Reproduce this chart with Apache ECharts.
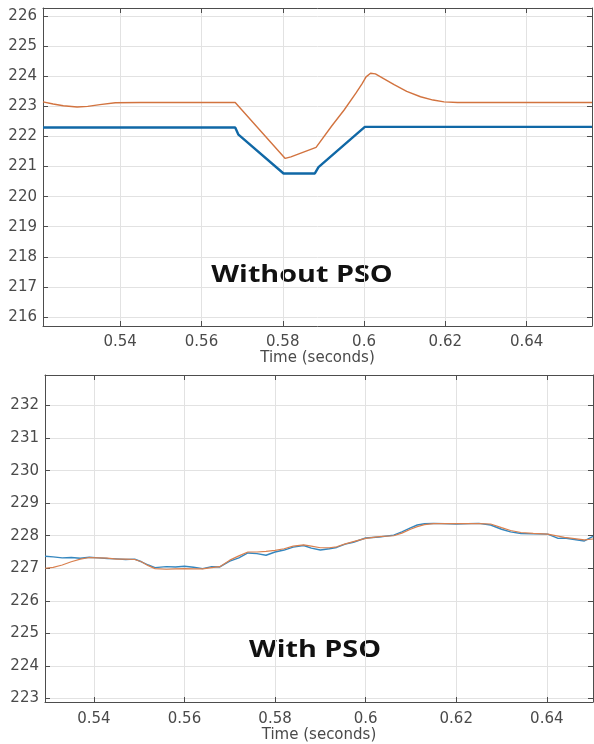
<!DOCTYPE html>
<html>
<head>
<meta charset="utf-8">
<script src="https://cdn.jsdelivr.net/npm/echarts@6/dist/echarts.min.js"></script>
<style>
html,body{margin:0;padding:0;background:#fff;}
#chart{width:594px;height:744px;}
</style>
</head>
<body>
<div id="chart"></div>
<script>
// ---- Top panel (Without PSO) ----
const topOrangeTime = [0.521, 0.5235, 0.526, 0.5294, 0.532, 0.535, 0.5388, 0.545, 0.555, 0.5683, 0.5806, 0.582, 0.5882, 0.592, 0.5951, 0.598, 0.5995, 0.6005, 0.6016, 0.6028, 0.6045, 0.6074, 0.6105, 0.6139, 0.617, 0.6197, 0.623, 0.63, 0.64, 0.6561];
const topOrange     = [223.15, 223.08, 223.02, 222.98, 223.0, 223.06, 223.12, 223.13, 223.13, 223.13, 221.27, 221.32, 221.64, 222.34, 222.88, 223.44, 223.75, 223.98, 224.1, 224.08, 223.95, 223.72, 223.5, 223.32, 223.21, 223.15, 223.13, 223.13, 223.13, 223.13];
const topBlueTime   = [0.521, 0.545, 0.5683, 0.5691, 0.5802, 0.584, 0.5879, 0.5888, 0.6002, 0.62, 0.6561];
const topBlue       = [222.30, 222.30, 222.30, 222.06, 220.77, 220.77, 220.77, 220.98, 222.32, 222.32, 222.32];

// ---- Bottom panel (With PSO) ----
const botTime   = [0.5292, 0.531, 0.533, 0.535, 0.537, 0.539, 0.541, 0.543, 0.545, 0.547, 0.549, 0.5505, 0.552, 0.5535, 0.556, 0.558, 0.560, 0.562, 0.564, 0.566, 0.5678, 0.570, 0.572, 0.574, 0.576, 0.578, 0.580, 0.582, 0.584, 0.5863, 0.588, 0.590, 0.592, 0.5936, 0.5955, 0.5973, 0.600, 0.603, 0.6062, 0.608, 0.6099, 0.6114, 0.613, 0.615, 0.620, 0.625, 0.6276, 0.630, 0.632, 0.6343, 0.637, 0.6402, 0.6425, 0.6439, 0.6483, 0.6502];
const botOrange = [227.00, 227.03, 227.10, 227.20, 227.28, 227.33, 227.32, 227.31, 227.28, 227.28, 227.27, 227.20, 227.08, 226.99, 226.97, 226.98, 226.99, 226.98, 226.98, 227.02, 227.05, 227.25, 227.38, 227.50, 227.50, 227.52, 227.55, 227.60, 227.68, 227.72, 227.68, 227.63, 227.63, 227.66, 227.75, 227.82, 227.92, 227.97, 228.00, 228.08, 228.20, 228.28, 228.34, 228.37, 228.37, 228.37, 228.36, 228.25, 228.16, 228.10, 228.07, 228.05, 227.99, 227.95, 227.87, 227.90];
const botBlue   = [227.37, 227.35, 227.32, 227.33, 227.31, 227.34, 227.32, 227.30, 227.29, 227.27, 227.28, 227.20, 227.10, 227.02, 227.05, 227.04, 227.06, 227.03, 226.99, 227.05, 227.04, 227.22, 227.32, 227.47, 227.45, 227.40, 227.50, 227.56, 227.65, 227.70, 227.62, 227.56, 227.60, 227.64, 227.74, 227.80, 227.93, 227.96, 228.02, 228.12, 228.24, 228.33, 228.37, 228.38, 228.36, 228.38, 228.33, 228.20, 228.12, 228.07, 228.06, 228.05, 227.92, 227.93, 227.84, 227.98];

const xLabelName = 'Time (seconds)';
const topTitle = 'Without PSO';
const botTitle = 'With PSO';

function pairs(t, v){ return t.map((x,i)=>[x, v[i]]); }

const axisColor = '#4d4d4d';
const labelStyle = {color:'#4a4a4a', fontFamily:'DejaVu Sans', fontSize:15};

function xAxisMain(gi, min, max, gap, labMargin){
  return {type:'value', gridIndex:gi, min:min, max:max, minInterval:0.02, maxInterval:0.02,
    name:xLabelName, nameLocation:'middle', nameGap:gap,
    nameTextStyle:{color:'#4a4a4a', fontFamily:'DejaVu Sans', fontSize:15},
    axisLine:{show:true, onZero:false, lineStyle:{color:axisColor, width:1}},
    axisTick:{show:true, inside:true, length:5, lineStyle:{color:axisColor}},
    axisLabel:Object.assign({margin:labMargin, showMinLabel:false, showMaxLabel:false}, labelStyle),
    splitLine:{show:true, lineStyle:{color:'#e2e2e2', width:1}}};
}
function xAxisTop(gi, min, max){
  return {type:'value', gridIndex:gi, position:'top', min:min, max:max, minInterval:0.02, maxInterval:0.02,
    axisLine:{show:true, onZero:false, lineStyle:{color:axisColor, width:1}},
    axisTick:{show:true, inside:true, length:5, lineStyle:{color:axisColor}},
    axisLabel:{show:false}, splitLine:{show:false}};
}
function yAxisMain(gi, min, max){
  return {type:'value', gridIndex:gi, min:min, max:max, minInterval:1, maxInterval:1,
    axisLine:{show:true, onZero:false, lineStyle:{color:axisColor, width:1}},
    axisTick:{show:true, inside:true, length:5, lineStyle:{color:axisColor}},
    axisLabel:Object.assign({margin:6, showMinLabel:false, showMaxLabel:false}, labelStyle),
    splitLine:{show:true, lineStyle:{color:'#e2e2e2', width:1}}};
}
function yAxisRight(gi, min, max){
  return {type:'value', gridIndex:gi, position:'right', min:min, max:max, minInterval:1, maxInterval:1,
    axisLine:{show:true, onZero:false, lineStyle:{color:axisColor, width:1}},
    axisTick:{show:true, inside:true, length:5, lineStyle:{color:axisColor}},
    axisLabel:{show:false}, splitLine:{show:false}};
}

const chart = echarts.init(document.getElementById('chart'), null, {renderer:'canvas'});
chart.setOption({
  animation:false,
  backgroundColor:'#fff',
  grid:[
    {left:43, top:8, width:549, height:318, containLabel:false, outerBoundsMode:'none'},
    {left:45, top:375, width:548, height:327, containLabel:false, outerBoundsMode:'none'}
  ],
  xAxis:[
    xAxisMain(0, 0.521, 0.6561, 24, 9),
    xAxisTop(0, 0.521, 0.6561),
    xAxisMain(1, 0.5292, 0.6502, 26, 10),
    xAxisTop(1, 0.5292, 0.6502)
  ],
  yAxis:[
    yAxisMain(0, 215.7, 226.27),
    yAxisRight(0, 215.7, 226.27),
    yAxisMain(1, 222.89, 232.94),
    yAxisRight(1, 222.89, 232.94)
  ],
  series:[
    {type:'line', xAxisIndex:0, yAxisIndex:0, data:pairs(topBlueTime, topBlue), showSymbol:false,
      lineStyle:{color:'#1068a6', width:2.4}},
    {type:'line', xAxisIndex:0, yAxisIndex:0, data:pairs(topOrangeTime, topOrange), showSymbol:false,
      lineStyle:{color:'#d2733f', width:1.4}},
    {type:'line', xAxisIndex:2, yAxisIndex:2, data:pairs(botTime, botBlue), showSymbol:false,
      lineStyle:{color:'#3587bf', width:1.4}},
    {type:'line', xAxisIndex:2, yAxisIndex:2, data:pairs(botTime, botOrange), showSymbol:false,
      lineStyle:{color:'#d9804f', width:1.2}}
  ],
  graphic:[
    {type:'text', x:302, y:275, scaleX:1.25, style:{text:topTitle, font:'bold 23px "Open Sans"', fill:'#111', align:'center', verticalAlign:'middle'}},
    {type:'text', x:315, y:650, scaleX:1.25, style:{text:botTitle, font:'bold 23px "Open Sans"', fill:'#111', align:'center', verticalAlign:'middle'}}
  ]
});
</script>
</body>
</html>
